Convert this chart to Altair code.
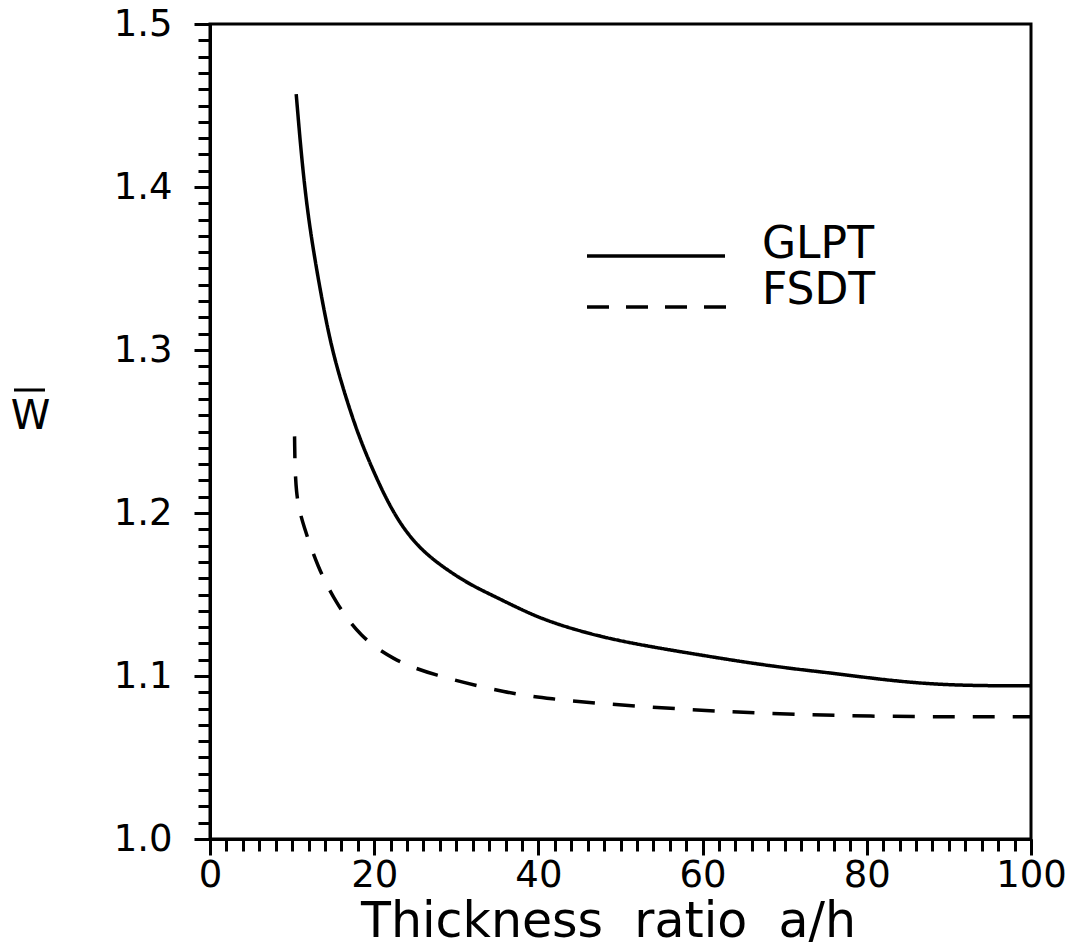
import altair as alt
import pandas as pd

# ---- data ----
glpt_x = [10.5, 11.2, 12.0, 12.9, 13.5, 14.1, 14.9, 16.1, 17.9, 19.6, 21.6, 23.6, 26.0,
          28.9, 31.7, 35.0, 37.8, 41.4, 47.5, 53.6, 59.6, 65.7, 71.7, 75.4, 81.5,
          87.6, 93.7, 100]
glpt_y = [1.457, 1.415, 1.380, 1.352, 1.335, 1.319, 1.300, 1.278, 1.250, 1.229, 1.207,
          1.190, 1.176, 1.165, 1.156, 1.148, 1.141, 1.133, 1.124, 1.118, 1.113, 1.108,
          1.104, 1.102, 1.098, 1.095, 1.094, 1.094]

fsdt_x = [10.3, 10.4, 11.4, 13.1, 15.3, 18.3, 22.3, 26.8, 36.6, 41.5, 47.6, 56.5,
          66.7, 81.7, 96.3, 100]
fsdt_y = [1.247, 1.210, 1.192, 1.167, 1.145, 1.124, 1.110, 1.101, 1.089, 1.086, 1.083,
          1.080, 1.077, 1.075, 1.075, 1.075]

series_names = ["GLPT", "FSDT"]
x_major = [0, 20, 40, 60, 80, 100]
x_minor = list(range(0, 101, 2))
y_major = [1.0, 1.1, 1.2, 1.3, 1.4, 1.5]
y_minor = [round(1.0 + i * 0.01, 2) for i in range(51)]
y_title = "W"

df = pd.concat([
    pd.DataFrame({"x": glpt_x, "y": glpt_y, "series": series_names[0]}),
    pd.DataFrame({"x": fsdt_x, "y": fsdt_y, "series": series_names[1]}),
])

FONT = "DejaVu Sans"
xs = alt.Scale(domain=[0, 100], nice=False, zero=False)
ys = alt.Scale(domain=[1.0, 1.5], nice=False, zero=False)

major_x = alt.Axis(
    orient="bottom", values=x_major, format="d", tickSize=16, tickWidth=3,
    tickColor="black", domainColor="black", domainWidth=3, grid=False,
    labelFont=FONT, labelFontSize=37, labelColor="black", labelPadding=2,
    labelFlush=False,
    title="Thickness\u00a0\u00a0ratio\u00a0\u00a0a/h", titleFont=FONT, titleFontSize=49,
    titleFontWeight="normal", titleColor="black", titleX=398, titleY=97,
    titleAlign="center", titleBaseline="alphabetic",
)
major_y = alt.Axis(
    orient="left", values=y_major, format=".1f", tickSize=16, tickWidth=3,
    tickColor="black", domainColor="black", domainWidth=3, grid=False,
    labelFont=FONT, labelFontSize=37, labelColor="black", labelPadding=22,
    labelFlush=False,
    title=y_title, titleFont=FONT, titleFontSize=40, titleFontWeight="normal",
    titleColor="black", titleAngle=0, titleX=-180, titleY=392,
    titleAlign="center", titleBaseline="middle",
)
minor_x = alt.Axis(
    orient="bottom", values=x_minor, tickSize=12, tickWidth=3, tickColor="black",
    labels=False, domain=False, grid=False, title=None,
)
minor_y = alt.Axis(
    orient="left", values=y_minor, tickSize=12, tickWidth=3, tickColor="black",
    labels=False, domain=False, grid=False, title=None,
)

base = alt.Chart(df)

minor = base.mark_line(opacity=0).encode(
    x=alt.X("x:Q", scale=xs, axis=minor_x),
    y=alt.Y("y:Q", scale=ys, axis=minor_y),
    detail="series:N",
)

lines = base.mark_line(color="black", strokeWidth=3.5, interpolate="basis").encode(
    x=alt.X("x:Q", scale=xs, axis=major_x),
    y=alt.Y("y:Q", scale=ys, axis=major_y),
    strokeDash=alt.StrokeDash(
        "series:N",
        scale=alt.Scale(domain=series_names, range=[[1, 0], [22, 18]]),
        legend=None,
    ),
)

# overbar of the y-axis title (W-bar)
overbar = alt.Chart(pd.DataFrame({"label": [y_title]})).mark_rule(
    color="black", strokeWidth=3
).encode(x=alt.value(-196), x2=alt.value(-165), y=alt.value(366))

# ---- hand-drawn legend (as in the reference) ----
leg_solid = alt.Chart(pd.DataFrame({"label": [series_names[0]]})).mark_rule(
    color="black", strokeWidth=3.5
).encode(x=alt.value(377), x2=alt.value(515), y=alt.value(232))
leg_dash = alt.Chart(pd.DataFrame({"label": [series_names[1]]})).mark_rule(
    color="black", strokeWidth=3.5, strokeDash=[22, 17]
).encode(x=alt.value(377), x2=alt.value(517), y=alt.value(283))
leg_t1 = alt.Chart(pd.DataFrame({"label": [series_names[0]]})).mark_text(
    font=FONT, fontSize=44, align="left", baseline="alphabetic", color="black"
).encode(x=alt.value(552), y=alt.value(234), text="label:N")
leg_t2 = alt.Chart(pd.DataFrame({"label": [series_names[1]]})).mark_text(
    font=FONT, fontSize=44, align="left", baseline="alphabetic", color="black"
).encode(x=alt.value(552), y=alt.value(280), text="label:N")

chart = alt.layer(minor, lines, overbar, leg_solid, leg_dash, leg_t1, leg_t2).resolve_axis(
    x="independent", y="independent"
).properties(
    width=821, height=815,
    autosize=alt.AutoSizeParams(type="none"),
    padding={"left": 210, "top": 24, "right": 43, "bottom": 113},
    background="white",
).configure_view(stroke="black", strokeWidth=3)

chart.save("out.html", embed_options={"renderer": "svg", "actions": False})
